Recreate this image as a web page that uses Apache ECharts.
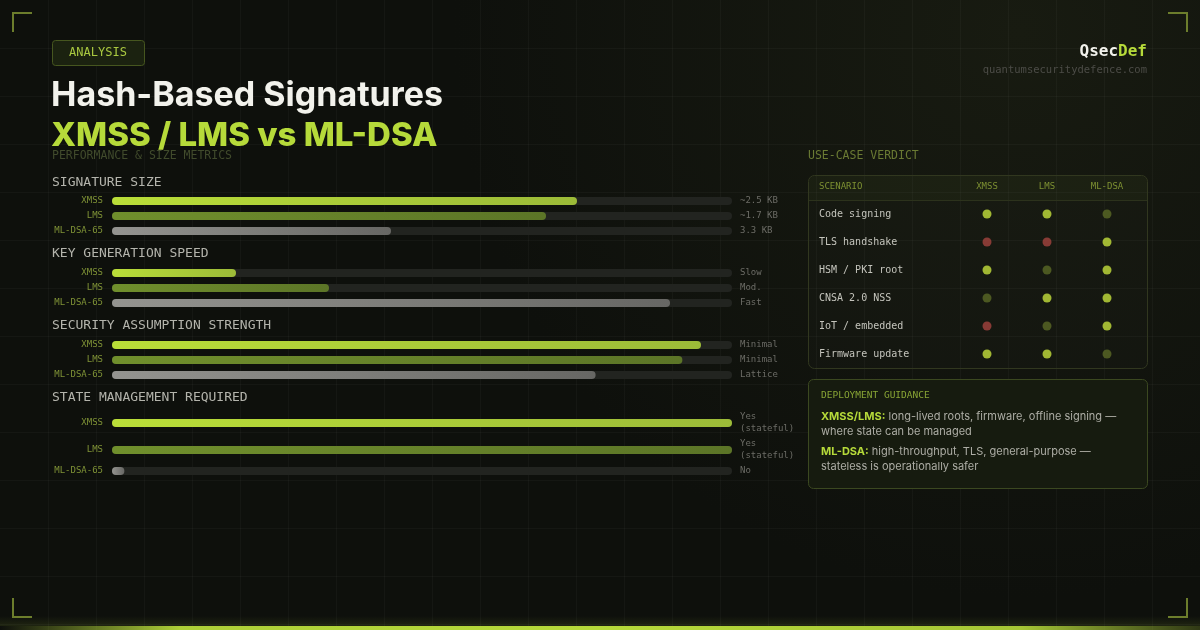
<!DOCTYPE html>
<html>
<head>
<meta charset="utf-8">
<title>Hash-Based Signatures</title>
<script src="https://cdn.jsdelivr.net/npm/echarts@6/dist/echarts.min.js"></script>
<style>
  html, body { margin: 0; padding: 0; background: #0e100c; }
  #chart { width: 1200px; height: 630px; }
</style>
</head>
<body>
<div id="chart"></div>
<script>
// data
const sections = ['SIGNATURE SIZE', 'KEY GENERATION SPEED', 'SECURITY ASSUMPTION STRENGTH', 'STATE MANAGEMENT REQUIRED'];
const schemes = ['XMSS', 'LMS', 'ML-DSA-65'];
const sigSize = [0.75, 0.70, 0.45];
const sigSizeLabels = ['~2.5 KB', '~1.7 KB', '3.3 KB'];
const keyGen = [0.20, 0.35, 0.90];
const keyGenLabels = ['Slow', 'Mod.', 'Fast'];
const security = [0.95, 0.92, 0.78];
const securityLabels = ['Minimal', 'Minimal', 'Lattice'];
const stateMgmt = [1.0, 1.0, 0.02];
const stateMgmtLabels = ['Yes\n(stateful)', 'Yes\n(stateful)', 'No'];

const scenarios = ['Code signing', 'TLS handshake', 'HSM / PKI root', 'CNSA 2.0 NSS', 'IoT / embedded', 'Firmware update'];
const verdictCols = ['XMSS', 'LMS', 'ML-DSA'];
// 2 = good, 1 = partial, 0 = poor
const verdicts = [
  [2, 2, 1],
  [0, 0, 2],
  [2, 1, 2],
  [1, 2, 2],
  [0, 1, 2],
  [2, 2, 1]
];

// layout
const MONO = '"DejaVu Sans Mono", "Liberation Mono", monospace';
const SANS = 'Inter, "Noto Sans", sans-serif';
const LIME = '#b6da3a';
const sectionY = [183, 254, 326, 398];
const rowY = [[201, 216, 231], [273, 288, 303], [345, 360, 375], [423, 450, 471]];
const barColors = [
  ['#bade38', '#9cbb38'],
  ['#708f2c', '#5c7527'],
  ['#949490', '#676764']
];
const dotColors = ['#a4433f', '#5a6926', '#c4e03c'];

const sectionValues = [sigSize, keyGen, security, stateMgmt];
const sectionLabels = [sigSizeLabels, keyGenLabels, securityLabels, stateMgmtLabels];

let myChart = echarts.init(document.getElementById('chart'), null, { renderer: 'canvas' });

const grids = [], xAxes = [], yAxes = [], series = [];
sectionValues.forEach(function (vals, s) {
  vals.forEach(function (v, r) {
    const gi = grids.length;
    grids.push({ left: 112, width: 620, top: rowY[s][r] - 5, height: 10 });
    xAxes.push({ gridIndex: gi, type: 'value', min: 0, max: 1, show: false });
    yAxes.push({
      gridIndex: gi, type: 'category', data: [schemes[r]],
      axisLine: { show: false }, axisTick: { show: false },
      axisLabel: { color: '#7f9236', fontSize: 9, fontFamily: MONO, margin: 9 }
    });
    yAxes.push({
      gridIndex: gi, type: 'category', position: 'right', data: [sectionLabels[s][r]],
      axisLine: { show: false }, axisTick: { show: false },
      axisLabel: { color: '#6c6c66', fontSize: 9, fontFamily: MONO, margin: 8, lineHeight: 12 }
    });
    series.push({
      type: 'bar', xAxisIndex: gi, yAxisIndex: gi * 2, barWidth: 8,
      showBackground: true,
      backgroundStyle: { color: '#222420', borderRadius: 4 },
      itemStyle: {
        borderRadius: 4,
        color: new echarts.graphic.LinearGradient(0, 0, 1, 0, [
          { offset: 0, color: barColors[r][0] },
          { offset: 1, color: barColors[r][1] }
        ])
      },
      data: [v]
    });
  });
});

// verdict table (scatter dots)
const tg = grids.length;
grids.push({ left: 957, width: 180, top: 200, height: 168 });
xAxes.push({
  gridIndex: tg, type: 'category', position: 'top', data: verdictCols,
  axisLine: { show: false }, axisTick: { show: false }, splitLine: { show: false },
  axisLabel: { color: '#7d9032', fontSize: 9, fontFamily: MONO, margin: 9 }
});
yAxes.push({
  gridIndex: tg, type: 'category', data: scenarios, inverse: true,
  axisLine: { show: false }, axisTick: { show: false }, splitLine: { show: false },
  axisLabel: { color: '#c4c4bc', fontSize: 10, fontFamily: MONO, margin: 138, align: 'left' }
});
const dots = [];
verdicts.forEach(function (row, ri) {
  row.forEach(function (v, ci) { dots.push([ci, ri, v]); });
});
series.push({
  type: 'scatter', xAxisIndex: tg, yAxisIndex: yAxes.length - 1,
  symbolSize: 9, silent: true,
  itemStyle: { color: function (p) { return dotColors[p.value[2]]; } },
  data: dots
});

// decoration
const elements = [];
for (let x = 48; x < 1200; x += 48) {
  elements.push({ type: 'line', shape: { x1: x + 0.5, y1: 0, x2: x + 0.5, y2: 630 }, style: { stroke: 'rgba(255,255,255,0.03)', lineWidth: 1 }, z: -10 });
}
for (let y = 48; y < 630; y += 48) {
  elements.push({ type: 'line', shape: { x1: 0, y1: y + 0.5, x2: 1200, y2: y + 0.5 }, style: { stroke: 'rgba(255,255,255,0.03)', lineWidth: 1 }, z: -10 });
}
// corner brackets
const cb = { stroke: '#6c7d2c', lineWidth: 2, fill: null };
elements.push({ type: 'polyline', shape: { points: [[13, 32], [13, 13], [32, 13]] }, style: cb });
elements.push({ type: 'polyline', shape: { points: [[1168, 13], [1187, 13], [1187, 32]] }, style: cb });
elements.push({ type: 'polyline', shape: { points: [[13, 598], [13, 617], [32, 617]] }, style: cb });
elements.push({ type: 'polyline', shape: { points: [[1168, 617], [1187, 617], [1187, 598]] }, style: cb });
// bottom accent strip
elements.push({
  type: 'rect', shape: { x: 0, y: 616, width: 1200, height: 10 },
  style: { fill: new echarts.graphic.LinearGradient(0, 0, 0, 1, [
    { offset: 0, color: 'rgba(182,218,58,0)' }, { offset: 1, color: 'rgba(182,218,58,0.1)' }]) }
});
elements.push({
  type: 'rect', shape: { x: 0, y: 626, width: 1200, height: 4 },
  style: { fill: new echarts.graphic.LinearGradient(0, 0, 1, 0, [
    { offset: 0, color: 'rgba(182,218,58,0)' },
    { offset: 0.15, color: 'rgba(182,218,58,0.95)' },
    { offset: 0.5, color: '#b6da3a' },
    { offset: 0.85, color: 'rgba(182,218,58,0.9)' },
    { offset: 1, color: 'rgba(182,218,58,0.2)' }]) }
});

// badge
elements.push({ type: 'rect', shape: { x: 52.5, y: 40.5, width: 92, height: 25, r: 3 }, style: { fill: '#1b2210', stroke: '#46561f', lineWidth: 1 } });
elements.push({ type: 'text', x: 98, y: 53, style: { text: 'ANALYSIS', fill: '#a9c840', font: '12px ' + MONO, align: 'center', verticalAlign: 'middle' } });

// headings
elements.push({ type: 'text', x: 52, y: 156, z: 1, style: { text: 'PERFORMANCE & SIZE METRICS', fill: '#414b2c', font: '11.5px ' + MONO, verticalAlign: 'middle' } });
elements.push({ type: 'text', x: 51, y: 96, z: 2, style: { text: 'Hash-Based Signatures', fill: '#f2f2ec', font: '700 34px ' + SANS, verticalAlign: 'middle' } });
elements.push({ type: 'text', x: 51, y: 136, z: 2, style: { text: 'XMSS / LMS vs ML-DSA', fill: LIME, font: '800 33px ' + SANS, verticalAlign: 'middle' } });

sections.forEach(function (t, i) {
  elements.push({ type: 'text', x: 52, y: sectionY[i], style: { text: t, fill: '#b4b4ac', font: '13px ' + MONO, verticalAlign: 'middle' } });
});

// logo
elements.push({ type: 'text', x: 1147, y: 52, style: { text: '{w|Qsec}{g|Def}', font: 'bold 16px ' + MONO, align: 'right', verticalAlign: 'middle',
  rich: { w: { fill: '#f2f2ec', font: 'bold 16px ' + MONO }, g: { fill: LIME, font: 'bold 16px ' + MONO } } } });
elements.push({ type: 'text', x: 1147, y: 70, style: { text: 'quantumsecuritydefence.com', fill: '#4c4c47', font: '10.5px ' + MONO, align: 'right', verticalAlign: 'middle' } });

// verdict box
elements.push({ type: 'text', x: 808, y: 156, style: { text: 'USE-CASE VERDICT', fill: '#6a7a33', font: '11.5px ' + MONO, verticalAlign: 'middle' } });
elements.push({ type: 'rect', z: -5, shape: { x: 808.5, y: 175.5, width: 339, height: 193, r: 6 }, style: { fill: 'rgba(255,255,255,0.012)', stroke: '#31371f', lineWidth: 1 } });
elements.push({ type: 'rect', z: -4, shape: { x: 809, y: 176, width: 338, height: 24, r: [6, 6, 0, 0] }, style: { fill: 'rgba(182,218,58,0.035)' } });
elements.push({ type: 'line', z: -4, shape: { x1: 809, y1: 200.5, x2: 1147, y2: 200.5 }, style: { stroke: '#2c321c', lineWidth: 1 } });
elements.push({ type: 'text', x: 819, y: 187, style: { text: 'SCENARIO', fill: '#7d9032', font: '9px ' + MONO, verticalAlign: 'middle' } });

// guidance box
elements.push({ type: 'rect', z: -5, shape: { x: 808.5, y: 379.5, width: 339, height: 109, r: 5 }, style: { fill: '#161b0f', stroke: '#3b4820', lineWidth: 1 } });
elements.push({ type: 'text', x: 821, y: 396, style: { text: 'DEPLOYMENT GUIDANCE', fill: '#88a435', font: '9.5px ' + MONO, verticalAlign: 'middle' } });
const guideRich = { b: { fill: LIME, font: '700 11px ' + SANS } };
elements.push({ type: 'text', x: 821, y: 409, style: { text: '{b|XMSS/LMS:} long-lived roots, firmware, offline signing —\nwhere state can be managed', fill: '#adada5', font: '11px ' + SANS, lineHeight: 15, verticalAlign: 'top', rich: guideRich } });
elements.push({ type: 'text', x: 821, y: 444, style: { text: '{b|ML-DSA:} high-throughput, TLS, general-purpose —\nstateless is operationally safer', fill: '#adada5', font: '11px ' + SANS, lineHeight: 15, verticalAlign: 'top', rich: guideRich } });

myChart.setOption({
  backgroundColor: new echarts.graphic.RadialGradient(0.85, 0.05, 0.9, [
    { offset: 0, color: '#181b11' },
    { offset: 1, color: '#0e100c' }
  ]),
  animation: false,
  grid: grids,
  xAxis: xAxes,
  yAxis: yAxes,
  series: series,
  graphic: { elements: elements }
});
</script>
</body>
</html>
